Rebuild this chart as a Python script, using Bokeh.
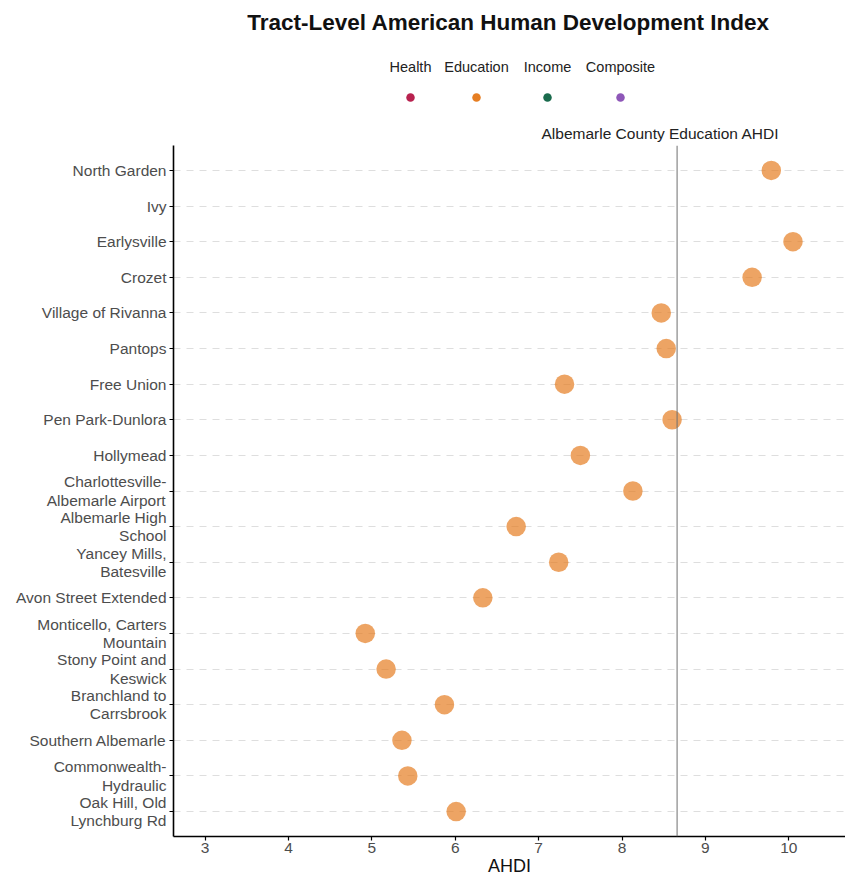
from bokeh.plotting import figure
from bokeh.layouts import column
from bokeh.models import Range1d, FactorRange, Span, ColumnDataSource
from bokeh.core.properties import value
from bokeh.embed import file_html
from bokeh.resources import INLINE

# ---------------- data ----------------
tracts = [
    "North Garden", "Ivy", "Earlysville", "Crozet", "Village of Rivanna",
    "Pantops", "Free Union", "Pen Park-Dunlora", "Hollymead",
    "Charlottesville-\nAlbemarle Airport", "Albemarle High\nSchool",
    "Yancey Mills,\nBatesville", "Avon Street Extended",
    "Monticello, Carters\nMountain", "Stony Point and\nKeswick",
    "Branchland to\nCarrsbrook", "Southern Albemarle",
    "Commonwealth-\nHydraulic", "Oak Hill, Old\nLynchburg Rd",
]
education = [9.79, float("nan"), 10.05, 9.56, 8.47, 8.53, 7.31, 8.60, 7.50,
             8.13, 6.73, 7.24, 6.33, 4.92, 5.17, 5.87, 5.36, 5.43, 6.01]
county_education = 8.66
legend_labels = ["Health", "Education", "Income", "Composite"]
legend_colors = ["#b8224f", "#e67e22", "#1a6b4d", "#8e57b8"]
x_ticks = [3, 4, 5, 6, 7, 8, 9, 10]

FONT = "Liberation Sans"
W = 845
TOP_H = 145
MAIN_H = 733
LEFT = 173

x_range = Range1d(2.62, 10.68)

# ---------------- header (title + legend) ----------------
top = figure(width=W, height=TOP_H, x_range=x_range, y_range=Range1d(TOP_H, 0),
             output_backend="svg", toolbar_location=None,
             min_border_left=LEFT, min_border_right=0, min_border_top=0,
             min_border_bottom=0)
top.axis.visible = False
top.grid.visible = False
top.outline_line_color = None

def px_to_x(px):
    # convert a canvas pixel position to data x for header layout
    return x_range.start + (px - LEFT) / (W - LEFT) * (x_range.end - x_range.start)

top.text(x=[px_to_x(508)], y=[22], text=["Tract-Level American Human Development Index"],
         text_font=value(FONT), text_font_size="22.5px", text_font_style="bold",
         text_align="center", text_baseline="middle", text_color="#111111")

leg_px = [410, 476, 547, 620]
leg_src = ColumnDataSource(dict(x=[px_to_x(v) for v in leg_px], lab=legend_labels,
                                col=legend_colors))
top.text(x="x", y=66, text="lab", source=leg_src, text_font=value(FONT),
         text_font_size="14.5px", text_align="center", text_baseline="middle",
         text_color="#222222")
top.scatter(x="x", y=97, source=leg_src, size=8.5, fill_color="col", line_color=None)

top.text(x=[county_education - 0.2], y=[133], text=["Albemarle County Education AHDI"],
         text_font=value(FONT), text_font_size="15.5px", text_align="center",
         text_baseline="middle", text_color="#222222")

# ---------------- main plot ----------------
factors = list(reversed(tracts))
p = figure(width=W, height=MAIN_H, x_range=x_range,
           y_range=FactorRange(factors=factors, range_padding=0.2,
                               range_padding_units="absolute"),
           output_backend="svg", toolbar_location=None,
           min_border_left=LEFT, min_border_right=0, min_border_top=0,
           min_border_bottom=38)
p.outline_line_color = None
p.xgrid.visible = False
p.ygrid.grid_line_color = "#dedede"
p.ygrid.grid_line_dash = "7 6"
p.ygrid.grid_line_width = 1.2

for ax in (p.xaxis[0], p.yaxis[0]):
    ax.axis_line_color = "black"
    ax.axis_line_width = 1.6
    ax.major_tick_line_color = "black"
    ax.major_tick_line_width = 1.2
    ax.major_tick_out = 4
    ax.major_tick_in = 0
    ax.minor_tick_line_color = None
    ax.major_label_text_font = FONT
    ax.major_label_text_font_size = "15.5px"
    ax.major_label_text_color = "#4d4d4d"
    ax.major_label_standoff = 3
    ax.major_label_text_line_height = 1.08

p.xaxis.ticker = x_ticks
p.xaxis.major_label_standoff = 2
p.xaxis.axis_label = "AHDI"
p.xaxis.axis_label_text_font = FONT
p.xaxis.axis_label_text_font_size = "18px"
p.xaxis.axis_label_text_font_style = "normal"
p.xaxis.axis_label_text_color = "#111111"
p.xaxis.axis_label_standoff = 0

p.add_layout(Span(location=county_education, dimension="height",
                  line_color="#6e6e6e", line_width=1))

src = ColumnDataSource(dict(y=tracts, x=education))
p.scatter(x="x", y="y", source=src, size=19.5, fill_color="#e67e22",
          fill_alpha=0.7, line_color=None)

layout = column(top, p, spacing=0)
open("out.html", "w").write(file_html(layout, INLINE))
